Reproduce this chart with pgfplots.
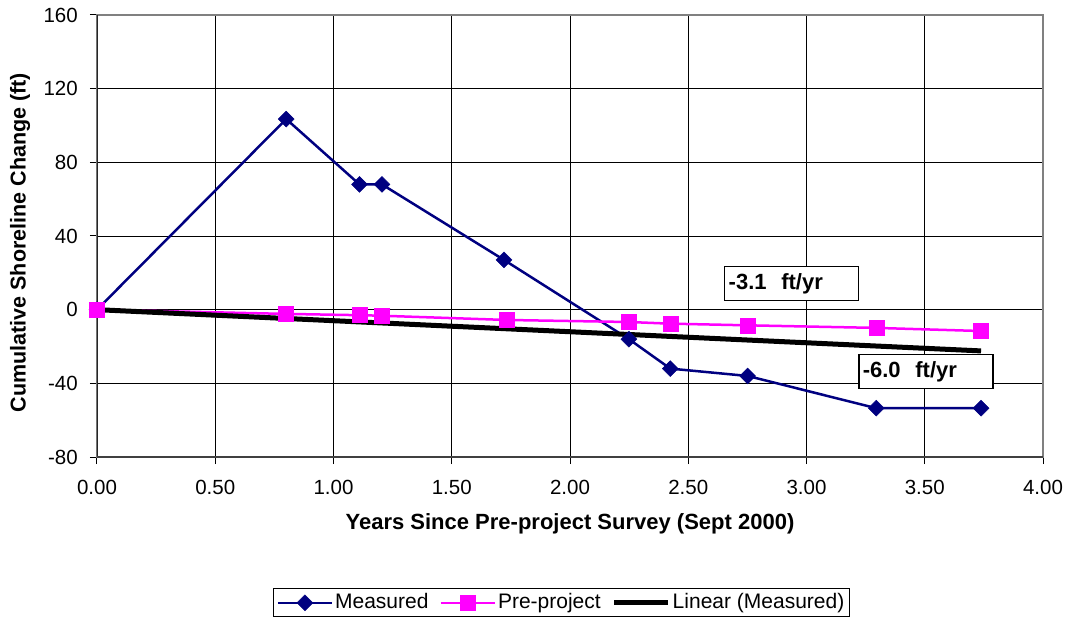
\documentclass[border=0pt]{standalone}
\usepackage{fontspec}
\setmainfont{Liberation Sans}
\usepackage{pgfplots}
\pgfplotsset{compat=1.18}
\definecolor{navy}{RGB}{0,0,128}
\definecolor{mag}{RGB}{255,0,255}
\pgfplotsset{
  legend image code/.code={\draw[mark repeat=2,mark phase=2,#1] plot coordinates {(0pt,0pt) (27pt,0pt) (54pt,0pt)};}
}
\begin{document}
\fontsize{20}{24}\selectfont
\begin{tikzpicture}
\begin{axis}[
  scale only axis, width=946pt, height=442pt,
  xmin=0, xmax=4, ymin=-80, ymax=160,
  xtick={0,0.5,1,1.5,2,2.5,3,3.5,4},
  ytick={-80,-40,0,40,80,120,160},
  grid=major, major grid style={black, line width=0.8pt},
  axis line style={draw=gray, line width=1.2pt},
  tick align=outside, major tick length=7pt,
  tick style={black, line width=1pt},
  xtick pos=left, ytick pos=left,
  /pgf/number format/assume math mode=true,
  ticklabel style={font=\fontsize{20.5}{24}\selectfont, inner sep=0pt},
  xticklabel style={/pgf/number format/fixed, /pgf/number format/fixed zerofill, /pgf/number format/precision=2, anchor=north, yshift=-16pt},
  yticklabel style={anchor=east, xshift=-12pt},
  xlabel={\bfseries Years Since Pre-project Survey (Sept 2000)},
  ylabel={\bfseries Cumulative Shoreline Change (ft)},
  xlabel style={at={(axis description cs:0.5,-0.1516)}, anchor=center, font=\fontsize{22}{26}\selectfont},
  ylabel style={at={(axis description cs:-0.0814,0.485)}, anchor=center, font=\fontsize{21.5}{26}\selectfont},
  legend columns=3,
  legend style={at={(axis description cs:0.491,-0.330)}, anchor=center, draw=black, line width=1pt,
    font=\fontsize{21}{25}\selectfont, inner xsep=3pt, inner ysep=3pt,
    /tikz/every even column/.append style={column sep=9pt}},
  legend cell align=left,
]
\addplot[navy, line width=2.5pt, mark=square*, mark size=5.6pt, mark options={rotate=45, solid, line width=0.5pt, fill=navy}]
  coordinates {(0,0) (0.80,103.5) (1.11,68) (1.205,68) (1.721,27) (2.249,-16) (2.424,-32) (2.751,-36) (3.295,-53.5) (3.738,-53.5)};
\addlegendentry{Measured}
\addplot[mag, line width=2.5pt, mark=square*, mark size=7.5pt, mark options={solid, line width=0.5pt, fill=mag}]
  coordinates {(0,0) (0.80,-2.3) (1.11,-3.0) (1.205,-3.3) (1.734,-5.6) (2.249,-6.7) (2.424,-7.6) (2.751,-8.5) (3.295,-9.9) (3.738,-11.6)};
\addlegendentry{Pre-project}
\addplot[black, line width=5pt] coordinates {(0,0) (3.738,-22.4)};
\addlegendentry{Linear (Measured)}
\draw[black!85, line width=2.5pt] (rel axis cs:0,0) -- (rel axis cs:0,1);
\draw[black!75, line width=2pt] (rel axis cs:0,0) -- (rel axis cs:1,0);
\node[draw=black, line width=1.5pt, fill=white, anchor=north west, minimum width=134pt, minimum height=34pt,
  text width=126pt, inner xsep=4pt, align=left, font=\fontsize{22}{26}\selectfont\bfseries]
  at (axis cs:2.651,23.9) {-3.1\ \ ft/yr};
\node[draw=black, line width=1.5pt, fill=white, anchor=north west, minimum width=134pt, minimum height=34pt,
  text width=126pt, inner xsep=4pt, align=left, font=\fontsize{22}{26}\selectfont\bfseries]
  at (axis cs:3.218,-23.9) {-6.0\ \ ft/yr};
\coordinate (bl) at (rel axis cs:0,0);
\coordinate (tr) at (rel axis cs:1,1);
\end{axis}
\pgfresetboundingbox
\path[use as bounding box] ([xshift=-97pt,yshift=-166pt]bl) rectangle ([xshift=24pt,yshift=15pt]tr);
\end{tikzpicture}
\end{document}
